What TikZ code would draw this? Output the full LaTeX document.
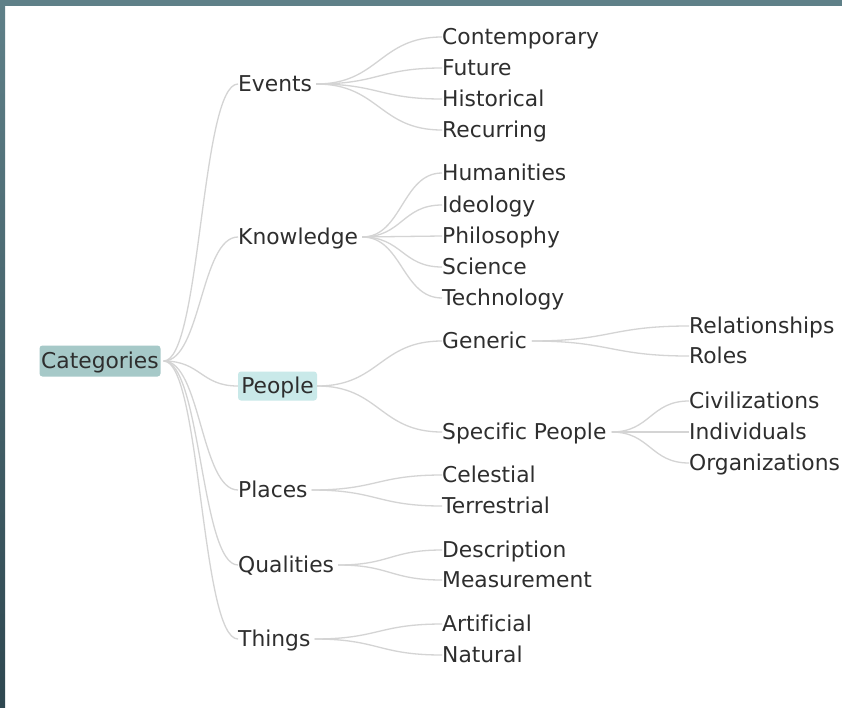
\documentclass[tikz,border=0pt]{standalone}
\usepackage{fontspec}
\setmainfont{DejaVu Sans}[Ligatures=NoCommon]
\usetikzlibrary{calc}
\definecolor{linkgray}{HTML}{D4D4D4}
\definecolor{rootfill}{HTML}{A6C9C8}
\definecolor{selfill}{HTML}{C9E9E9}
\definecolor{frameA}{HTML}{5F8088}
\definecolor{frameB}{HTML}{2E4750}
\definecolor{ink}{HTML}{2E2E2E}
\begin{document}
\begin{tikzpicture}[x=1pt,y=-1pt,
  lbl/.style={anchor=west,inner sep=0pt,text height=15.9pt,text depth=0pt,
    font=\fontsize{21.8}{24}\selectfont,text=ink},
  box/.style={inner sep=0pt,rounded corners=3pt,text height=15.9pt,text depth=0pt,
    font=\fontsize{21.8}{24}\selectfont,text=ink},
  link/.style={draw=linkgray,line width=1.3pt,
    to path={let \p1=(\tikztostart), \p2=(\tikztotarget) in
      .. controls ({(\x1+\x2)/2},\y1) and ({(\x1+\x2)/2},\y2) .. (\tikztotarget)}}
]
\useasboundingbox (0,0) rectangle (842,707);
\fill[white] (0,0) rectangle (842,707);
% window frame
\fill[frameA] (0,0) rectangle (842,5.5);
\fill[top color=frameA,bottom color=frameB] (0,0) rectangle (5,707);

% root and first level
\node[box,fill=rootfill,minimum width=121pt,minimum height=31pt] (cat) at (100,361) {Categories};
\node[lbl] (ev) at (238,84) {Events};
\node[lbl] (kn) at (238,237) {Knowledge};
\node[box,fill=selfill,minimum width=79pt,minimum height=29pt] (pe) at (277.5,386) {People};
\node[lbl] (pl) at (238,490) {Places};
\node[lbl] (qu) at (238,565) {Qualities};
\node[lbl] (th) at (238,639) {Things};

% second level
\node[lbl] (e1) at (442,37) {Contemporary};
\node[lbl] (e2) at (442,68) {Future};
\node[lbl] (e3) at (442,99) {Historical};
\node[lbl] (e4) at (442,130) {Recurring};
\node[lbl] (k1) at (442,173) {Humanities};
\node[lbl] (k2) at (442,205) {Ideology};
\node[lbl] (k3) at (442,236) {Philosophy};
\node[lbl] (k4) at (442,267) {Science};
\node[lbl] (k5) at (442,298) {Technology};
\node[lbl] (p1) at (442,341) {Generic};
\node[lbl] (p2) at (442,432) {Specific People};
\node[lbl] (l1) at (442,475) {Celestial};
\node[lbl] (l2) at (442,506) {Terrestrial};
\node[lbl] (q1) at (442,550) {Description};
\node[lbl] (q2) at (442,580) {Measurement};
\node[lbl] (t1) at (442,624) {Artificial};
\node[lbl] (t2) at (442,655) {Natural};

% third level
\node[lbl] (g1) at (689,326) {Relationships};
\node[lbl] (g2) at (689,356) {Roles};
\node[lbl] (s1) at (689,401) {Civilizations};
\node[lbl] (s2) at (689,432) {Individuals};
\node[lbl] (s3) at (689,463) {Organizations};

% links
\foreach \c in {ev,kn,pe,pl,qu,th}
  \draw[link] ([xshift=3pt]cat.east) to (\c.west);
\foreach \c in {e1,e2,e3,e4}
  \draw[link] ([xshift=4pt]ev.east) to (\c.west);
\foreach \c in {k1,k2,k3,k4,k5}
  \draw[link] ([xshift=4pt]kn.east) to (\c.west);
\foreach \c in {p1,p2}
  \draw[link] (pe.east) to (\c.west);
\foreach \c in {l1,l2}
  \draw[link] ([xshift=4pt]pl.east) to (\c.west);
\foreach \c in {q1,q2}
  \draw[link] ([xshift=4pt]qu.east) to (\c.west);
\foreach \c in {t1,t2}
  \draw[link] ([xshift=4pt]th.east) to (\c.west);
\foreach \c in {g1,g2}
  \draw[link] ([xshift=5pt]p1.east) to (\c.west);
\foreach \c in {s1,s2,s3}
  \draw[link] ([xshift=5pt]p2.east) to (\c.west);
\end{tikzpicture}
\end{document}
